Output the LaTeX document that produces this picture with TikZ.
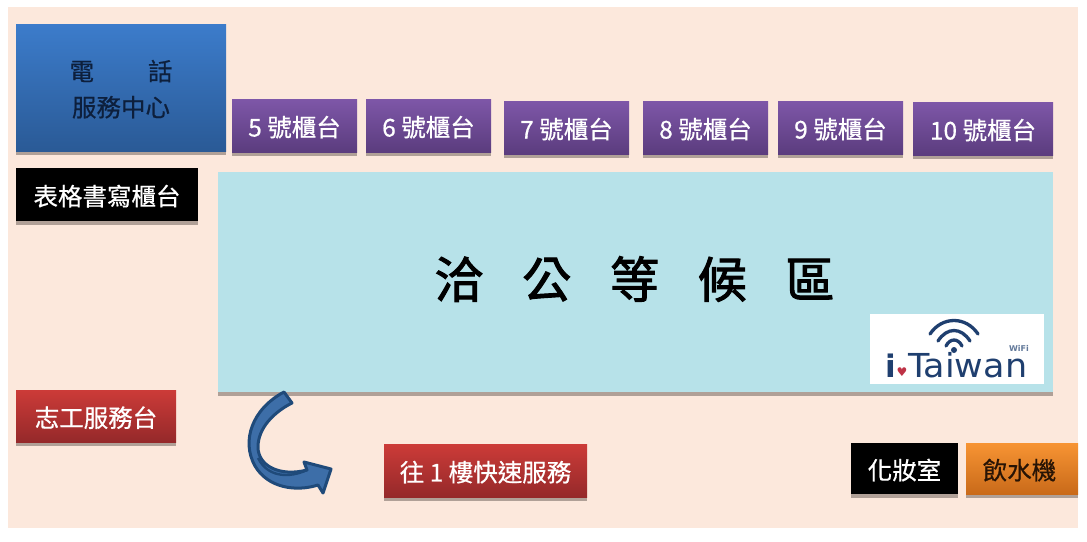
\documentclass[tikz,border=0pt]{standalone}
\usepackage{fontspec}
\setmainfont{Noto Sans CJK TC}[UprightFeatures={FakeBold=0.6}]
\newfontfamily\titlefont{Noto Sans CJK TC}[UprightFeatures={FakeBold=2}]
\newfontfamily\logofont{DejaVu Sans}
\newfontfamily\heartfont{DejaVu Sans}
\usetikzlibrary{shadows}
\definecolor{bgc}{HTML}{FCE8DC}
\definecolor{shadowc}{HTML}{B0A097}
\definecolor{waitc}{HTML}{B7E2E9}
\definecolor{navy}{HTML}{1F4A7A}
\definecolor{logoc}{HTML}{1F3F6F}
\newcommand{\lift}{\rule{0pt}{24pt}}
\tikzset{
  x=1pt,y=-1pt,
  shad/.style={drop shadow={shadow xshift=0pt,shadow yshift=-3.5pt,fill=shadowc,opacity=1}},
  boxbase/.style={rectangle,inner sep=0pt,outer sep=0pt,shad,text=white,font=\fontsize{24.5}{36}\selectfont,align=center},
  bluebox/.style={boxbase,top color={rgb,255:red,60;green,124;blue,203},bottom color={rgb,255:red,42;green,90;blue,150},text={rgb,255:red,13;green,31;blue,60}},
  purplebox/.style={boxbase,top color={rgb,255:red,126;green,87;blue,168},bottom color={rgb,255:red,91;green,60;blue,126}},
  redbox/.style={boxbase,top color={rgb,255:red,204;green,59;blue,56},bottom color={rgb,255:red,149;green,41;blue,42}},
  orangebox/.style={boxbase,top color={rgb,255:red,247;green,148;blue,51},bottom color={rgb,255:red,201;green,106;blue,26},text={rgb,255:red,40;green,20;blue,5}},
  blackbox/.style={boxbase,fill=black},
  waitbox/.style={boxbase,fill=waitc,text=black},
  wifiarc/.style={draw=logoc,line width=3.3pt,line cap=round},
}
\newcommand{\kbox}[7]{\node[#1,minimum width=#5pt-#3pt,minimum height=#6pt-#4pt] (#2) at ({(#3+#5)/2},{(#4+#6)/2}) {#7};}
\begin{document}
\begin{tikzpicture}
\useasboundingbox (0,0) rectangle (1087,541);
\fill[white] (0,0) rectangle (1087,541);
\fill[bgc] (8,7) rectangle (1078,528);
\kbox{bluebox}{phone}{16}{24}{226}{151}{\lift 電\hspace{54pt}話\\服務中心}
\kbox{purplebox}{c5}{232}{99}{357}{152}{\lift 5 號櫃台}
\kbox{purplebox}{c6}{366}{99}{491}{152}{\lift 6 號櫃台}
\kbox{purplebox}{c7}{504}{101}{629}{154}{\lift 7 號櫃台}
\kbox{purplebox}{c8}{643}{101}{768}{154}{\lift 8 號櫃台}
\kbox{purplebox}{c9}{778}{101}{903}{154}{\lift 9 號櫃台}
\kbox{purplebox}{c10}{913}{102}{1053}{155}{\lift 10 號櫃台}
\kbox{blackbox}{form}{16}{168}{198}{221}{\lift 表格書寫櫃台}
\kbox{waitbox}{wait}{218}{172}{1053}{392}{}
\node[font=\titlefont\fontsize{49}{54}\selectfont,inner sep=0pt] (waittext) at (634.5,279) {洽\hspace{38.75pt}公\hspace{38.75pt}等\hspace{38.75pt}候\hspace{38.75pt}區};
\kbox{redbox}{vol}{16}{390}{176}{442}{\lift 志工服務台}
\kbox{redbox}{fast}{384}{444}{587}{497}{\lift 往 1 樓快速服務}
\kbox{blackbox}{makeup}{851}{443}{958}{494}{\lift 化妝室}
\kbox{orangebox}{water}{966}{443}{1078}{494}{\lift 飲水機\hspace{5pt}}
% i-Taiwan logo
\fill[white] (870,314) rectangle (1044,384);
\draw[wifiarc] (930,334) .. controls (942,316) and (966,316) .. (978,334);
\draw[wifiarc] (938,341) .. controls (947,327) and (961,327) .. (970,341);
\draw[wifiarc] (946,346) .. controls (950,338) and (958,338) .. (962,346);
\fill[logoc] (954,350) circle (3);
\node[font=\logofont\fontsize{33}{33}\selectfont,text=logoc,inner sep=0pt,anchor=base west] (taiwan) at (908,377) {\scalebox{1.06}[1]{Taiwan}};
\node[font=\logofont\bfseries\fontsize{31}{31}\selectfont,text=logoc,inner sep=0pt,anchor=base west] (logoi) at (885,377) {i};
\node[font=\heartfont\fontsize{12}{12}\selectfont,text={rgb,255:red,190;green,50;blue,70},inner sep=0pt] (heart) at (902,372) {♥};
\node[font=\logofont\bfseries\fontsize{8}{8}\selectfont,text=logoc!70!white,inner sep=0pt] (wifi) at (1019,348) {WiFi};
% curved arrow
\draw[draw=navy,line width=3pt,line join=round,fill={rgb,255:red,61;green,110;blue,168}]
  (284,392) -- (292,403)
  .. controls (274,412) and (258,428) .. (258,447)
  .. controls (258,466) and (280,477) .. (307,470)
  -- (304,462) -- (331,469) -- (323,493) -- (318,485)
  .. controls (296,492) and (268,488) .. (255,466)
  .. controls (241,441) and (252,409) .. (284,392) -- cycle;
\draw[draw=navy,line width=2.4pt] (258,458) .. controls (268,478) and (290,478) .. (307,470);
\end{tikzpicture}
\end{document}
